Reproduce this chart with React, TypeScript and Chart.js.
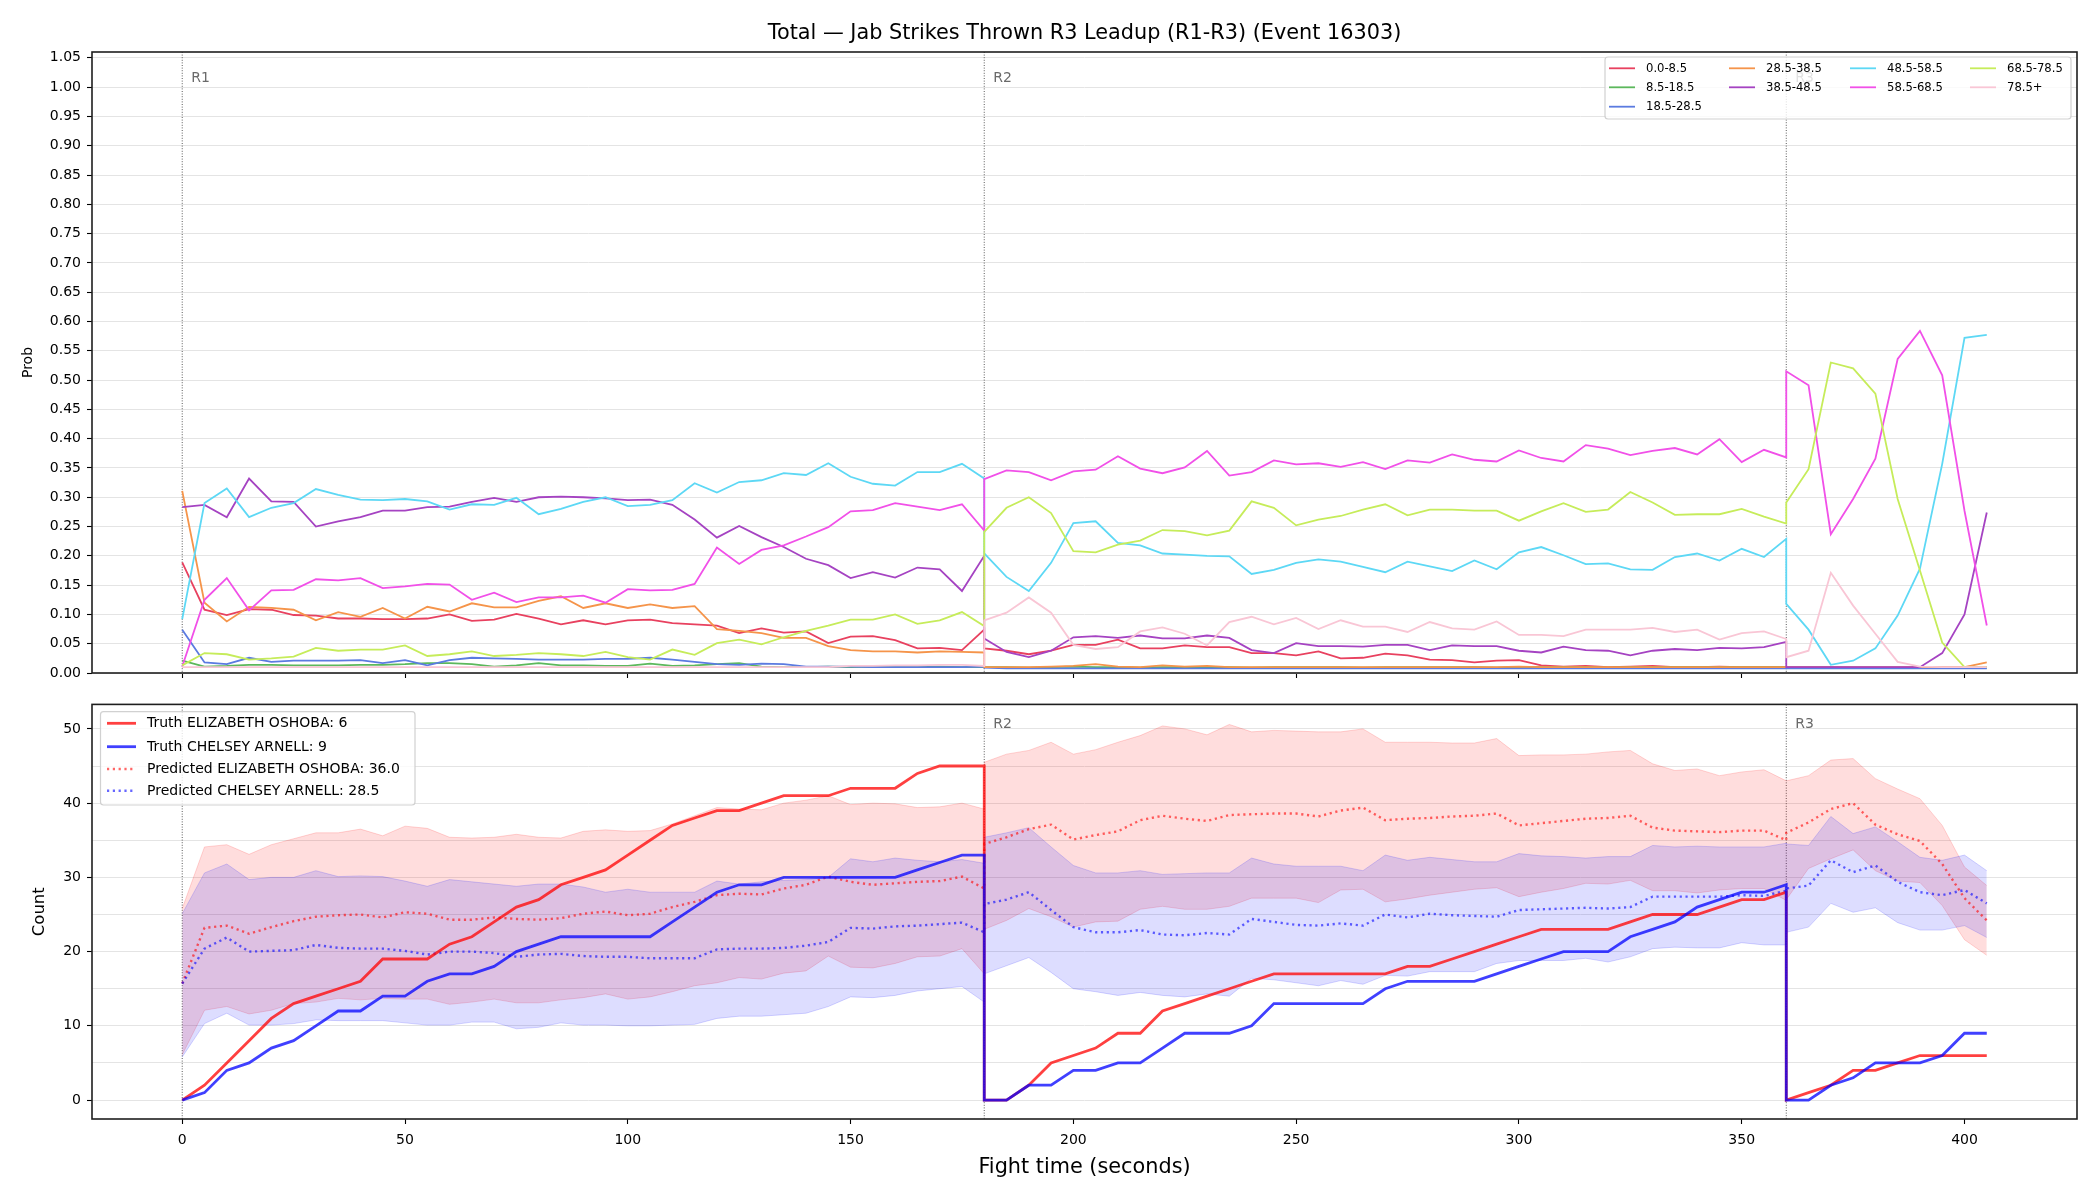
import React, { useEffect, useRef } from 'react';
import { Chart, registerables } from 'chart.js';

Chart.register(...registerables);

const FONT = '"DejaVu Sans", "Liberation Sans", sans-serif';

// Sample times (seconds). Each round restarts its counters, so the round
// boundaries (180 s and 360 s) appear twice: end of one round, start of the next.
const TIMES = [
  0, 5, 10, 15, 20, 25, 30, 35, 40, 45, 50, 55, 60, 65, 70, 75, 80, 85, 90, 95,
  100, 105, 110, 115, 120, 125, 130, 135, 140, 145, 150, 155, 160, 165, 170, 175, 180,
  180, 185, 190, 195, 200, 205, 210, 215, 220, 225, 230, 235, 240, 245, 250, 255, 260, 265, 270, 275,
  280, 285, 290, 295, 300, 305, 310, 315, 320, 325, 330, 335, 340, 345, 350, 355, 360,
  360, 365, 370, 375, 380, 385, 390, 395, 400, 405,
];

const X_TICKS = [0, 50, 100, 150, 200, 250, 300, 350, 400];
const PROB_TICKS = [0, 0.05, 0.1, 0.15, 0.2, 0.25, 0.3, 0.35, 0.4, 0.45, 0.5, 0.55, 0.6, 0.65, 0.7, 0.75, 0.8, 0.85, 0.9, 0.95, 1.0, 1.05];
const COUNT_TICKS = [0, 5, 10, 15, 20, 25, 30, 35, 40, 45, 50];

const ROUNDS = [
  { t: 0, label: 'R1' },
  { t: 180, label: 'R2' },
  { t: 360, label: 'R3' },
];

const BIN_LABELS = ['0.0-8.5', '8.5-18.5', '18.5-28.5', '28.5-38.5', '38.5-48.5', '48.5-58.5', '58.5-68.5', '68.5-78.5', '78.5+'];
const BIN_COLORS = ['#e8415f', '#5cb85c', '#5b7be0', '#f5944a', '#a543c2', '#5dd8f5', '#f150e8', '#c6ec5a', '#f9c6d5'];

// Probability of the final total landing in each bin
const P_0_8 = [
  0.189, 0.108, 0.099, 0.109, 0.108, 0.099, 0.098, 0.093, 0.093, 0.092, 0.092, 0.093, 0.100, 0.089, 0.091, 0.101, 0.093, 0.083, 0.090, 0.083,
  0.090, 0.091, 0.085, 0.083, 0.081, 0.068, 0.076, 0.069, 0.071, 0.051, 0.062, 0.063, 0.056, 0.042, 0.043, 0.039, 0.074,
  0.042, 0.038, 0.032, 0.038, 0.048, 0.048, 0.057, 0.042, 0.042, 0.047, 0.044, 0.044, 0.034, 0.034, 0.030, 0.037, 0.025, 0.026, 0.033, 0.030,
  0.023, 0.022, 0.018, 0.021, 0.022, 0.013, 0.011, 0.012, 0.010, 0.011, 0.012, 0.010, 0.010, 0.011, 0.010, 0.010, 0.010,
  0.010, 0.010, 0.010, 0.009, 0.009, 0.009, 0.009, 0.009, 0.009, 0.010,
];
const P_8_18 = [
  0.021, 0.011, 0.012, 0.014, 0.014, 0.013, 0.013, 0.013, 0.014, 0.014, 0.015, 0.017, 0.017, 0.015, 0.011, 0.013, 0.017, 0.013, 0.013, 0.012,
  0.012, 0.016, 0.012, 0.013, 0.015, 0.017, 0.011, 0.010, 0.010, 0.011, 0.010, 0.011, 0.010, 0.010, 0.011, 0.010, 0.010,
  0.010, 0.010, 0.009, 0.010, 0.011, 0.010, 0.010, 0.009, 0.010, 0.010, 0.010, 0.010, 0.009, 0.010, 0.010, 0.010, 0.010, 0.009, 0.010, 0.010,
  0.010, 0.010, 0.010, 0.009, 0.010, 0.010, 0.010, 0.010, 0.009, 0.010, 0.010, 0.010, 0.010, 0.010, 0.010, 0.010, 0.010,
  0.009, 0.009, 0.009, 0.009, 0.009, 0.009, 0.009, 0.009, 0.009, 0.009,
];
const P_18_28 = [
  0.074, 0.018, 0.015, 0.026, 0.019, 0.021, 0.021, 0.021, 0.022, 0.017, 0.022, 0.013, 0.022, 0.026, 0.025, 0.024, 0.023, 0.023, 0.023, 0.024,
  0.024, 0.026, 0.023, 0.019, 0.015, 0.014, 0.016, 0.015, 0.011, 0.011, 0.011, 0.010, 0.010, 0.010, 0.010, 0.010, 0.011,
  0.009, 0.008, 0.008, 0.008, 0.008, 0.008, 0.008, 0.008, 0.008, 0.008, 0.008, 0.008, 0.008, 0.008, 0.008, 0.008, 0.008, 0.008, 0.008, 0.008,
  0.008, 0.008, 0.008, 0.008, 0.008, 0.008, 0.008, 0.008, 0.008, 0.008, 0.008, 0.008, 0.008, 0.008, 0.008, 0.008, 0.008,
  0.008, 0.008, 0.008, 0.008, 0.008, 0.008, 0.008, 0.008, 0.008, 0.008,
];
const P_28_38 = [
  0.311, 0.120, 0.088, 0.113, 0.111, 0.108, 0.090, 0.104, 0.096, 0.111, 0.093, 0.113, 0.105, 0.119, 0.112, 0.112, 0.123, 0.131, 0.111, 0.119,
  0.111, 0.117, 0.111, 0.114, 0.075, 0.072, 0.068, 0.060, 0.060, 0.046, 0.039, 0.037, 0.037, 0.035, 0.037, 0.036, 0.035,
  0.010, 0.010, 0.010, 0.011, 0.012, 0.015, 0.011, 0.010, 0.013, 0.011, 0.012, 0.010, 0.010, 0.010, 0.010, 0.010, 0.010, 0.010, 0.010, 0.010,
  0.010, 0.010, 0.010, 0.010, 0.011, 0.010, 0.010, 0.010, 0.010, 0.010, 0.010, 0.010, 0.010, 0.010, 0.010, 0.010, 0.010,
  0.010, 0.010, 0.010, 0.010, 0.010, 0.010, 0.010, 0.010, 0.010, 0.018,
];
const P_38_48 = [
  0.283, 0.287, 0.266, 0.332, 0.293, 0.292, 0.250, 0.259, 0.266, 0.277, 0.277, 0.283, 0.284, 0.292, 0.299, 0.292, 0.300, 0.301, 0.300, 0.298,
  0.295, 0.296, 0.287, 0.262, 0.231, 0.251, 0.232, 0.215, 0.195, 0.184, 0.162, 0.172, 0.163, 0.180, 0.177, 0.140, 0.200,
  0.059, 0.036, 0.027, 0.038, 0.061, 0.063, 0.060, 0.064, 0.059, 0.059, 0.064, 0.060, 0.039, 0.034, 0.051, 0.046, 0.046, 0.045, 0.048, 0.048,
  0.039, 0.047, 0.046, 0.046, 0.038, 0.035, 0.045, 0.039, 0.038, 0.030, 0.038, 0.041, 0.039, 0.043, 0.042, 0.044, 0.053,
  0.010, 0.010, 0.010, 0.010, 0.010, 0.010, 0.010, 0.034, 0.100, 0.274,
];
const P_48_58 = [
  0.092, 0.290, 0.315, 0.266, 0.282, 0.290, 0.314, 0.304, 0.296, 0.295, 0.297, 0.293, 0.279, 0.288, 0.287, 0.299, 0.271, 0.280, 0.292, 0.300,
  0.285, 0.287, 0.295, 0.324, 0.308, 0.326, 0.329, 0.341, 0.338, 0.358, 0.335, 0.323, 0.320, 0.343, 0.343, 0.357, 0.332,
  0.204, 0.164, 0.140, 0.188, 0.256, 0.259, 0.222, 0.218, 0.204, 0.202, 0.200, 0.199, 0.169, 0.176, 0.188, 0.194, 0.190, 0.181, 0.172, 0.190,
  0.182, 0.174, 0.192, 0.177, 0.206, 0.215, 0.201, 0.186, 0.187, 0.177, 0.176, 0.198, 0.204, 0.192, 0.212, 0.198, 0.229,
  0.118, 0.074, 0.014, 0.021, 0.042, 0.098, 0.178, 0.357, 0.572, 0.577,
];
const P_58_68 = [
  0.011, 0.125, 0.162, 0.107, 0.141, 0.142, 0.160, 0.158, 0.162, 0.145, 0.148, 0.152, 0.151, 0.125, 0.137, 0.121, 0.129, 0.129, 0.132, 0.120,
  0.143, 0.141, 0.142, 0.152, 0.214, 0.186, 0.210, 0.218, 0.233, 0.249, 0.276, 0.278, 0.290, 0.284, 0.278, 0.288, 0.243,
  0.331, 0.346, 0.343, 0.329, 0.344, 0.347, 0.370, 0.349, 0.341, 0.351, 0.379, 0.337, 0.343, 0.363, 0.356, 0.358, 0.352, 0.360, 0.348, 0.363,
  0.359, 0.373, 0.364, 0.361, 0.380, 0.367, 0.361, 0.389, 0.383, 0.372, 0.379, 0.384, 0.373, 0.399, 0.360, 0.381, 0.368,
  0.515, 0.491, 0.237, 0.297, 0.366, 0.536, 0.584, 0.508, 0.277, 0.081,
];
const P_68_78 = [
  0.013, 0.034, 0.032, 0.023, 0.025, 0.028, 0.043, 0.038, 0.040, 0.040, 0.047, 0.029, 0.032, 0.037, 0.029, 0.031, 0.034, 0.032, 0.029, 0.036,
  0.027, 0.023, 0.040, 0.031, 0.051, 0.057, 0.049, 0.061, 0.072, 0.081, 0.091, 0.091, 0.100, 0.084, 0.090, 0.104, 0.080,
  0.241, 0.282, 0.300, 0.273, 0.208, 0.206, 0.219, 0.226, 0.244, 0.242, 0.235, 0.243, 0.293, 0.282, 0.252, 0.262, 0.268, 0.279, 0.288, 0.269,
  0.279, 0.279, 0.277, 0.277, 0.260, 0.276, 0.290, 0.275, 0.279, 0.309, 0.291, 0.270, 0.271, 0.271, 0.280, 0.267, 0.255,
  0.291, 0.348, 0.530, 0.520, 0.477, 0.297, 0.175, 0.052, 0.010, 0.010,
];
const P_78_UP = [
  0.010, 0.010, 0.010, 0.010, 0.010, 0.010, 0.010, 0.010, 0.010, 0.010, 0.010, 0.010, 0.010, 0.010, 0.010, 0.010, 0.010, 0.010, 0.010, 0.010,
  0.010, 0.010, 0.010, 0.010, 0.010, 0.010, 0.010, 0.010, 0.010, 0.010, 0.012, 0.012, 0.013, 0.013, 0.014, 0.014, 0.012,
  0.090, 0.103, 0.129, 0.103, 0.048, 0.041, 0.044, 0.071, 0.078, 0.067, 0.047, 0.087, 0.096, 0.083, 0.094, 0.075, 0.090, 0.079, 0.079, 0.070,
  0.087, 0.076, 0.074, 0.088, 0.065, 0.065, 0.063, 0.074, 0.074, 0.074, 0.077, 0.070, 0.074, 0.057, 0.068, 0.071, 0.058,
  0.027, 0.038, 0.171, 0.115, 0.067, 0.019, 0.011, 0.010, 0.010, 0.010,
];
const PROB_SERIES = [P_0_8, P_8_18, P_18_28, P_28_38, P_38_48, P_48_58, P_58_68, P_68_78, P_78_UP];

// Per-round jab counts: actual and predicted, with prediction bands
const FIGHTER_A = 'ELIZABETH OSHOBA';
const FIGHTER_B = 'CHELSEY ARNELL';

const TRUTH_A = [
  0, 2, 5, 8, 11, 13, 14, 15, 16, 19, 19, 19, 21, 22, 24, 26, 27, 29, 30, 31,
  33, 35, 37, 38, 39, 39, 40, 41, 41, 41, 42, 42, 42, 44, 45, 45, 45,
  0, 0, 2, 5, 6, 7, 9, 9, 12, 13, 14, 15, 16, 17, 17, 17, 17, 17, 17, 18,
  18, 19, 20, 21, 22, 23, 23, 23, 23, 24, 25, 25, 25, 26, 27, 27, 28,
  0, 1, 2, 4, 4, 5, 6, 6, 6, 6,
];
const TRUTH_B = [
  0, 1, 4, 5, 7, 8, 10, 12, 12, 14, 14, 16, 17, 17, 18, 20, 21, 22, 22, 22,
  22, 22, 24, 26, 28, 29, 29, 30, 30, 30, 30, 30, 30, 31, 32, 33, 33,
  0, 0, 2, 2, 4, 4, 5, 5, 7, 9, 9, 9, 10, 13, 13, 13, 13, 13, 15, 16,
  16, 16, 16, 17, 18, 19, 20, 20, 20, 22, 23, 24, 26, 27, 28, 28, 29,
  0, 0, 2, 3, 5, 5, 5, 6, 9, 9,
];
const PRED_A = [
  15.7, 23.2, 23.5, 22.4, 23.3, 24.1, 24.7, 24.9, 25.0, 24.6, 25.3, 25.1, 24.3, 24.3, 24.6, 24.4, 24.3, 24.5, 25.1, 25.4,
  24.9, 25.1, 26.0, 26.7, 27.6, 27.8, 27.7, 28.5, 29.0, 30.1, 29.4, 29.0, 29.2, 29.4, 29.5, 30.1, 28.5,
  34.5, 35.4, 36.5, 37.1, 35.1, 35.7, 36.2, 37.7, 38.3, 37.9, 37.6, 38.4, 38.5, 38.6, 38.6, 38.2, 39.0, 39.4, 37.7, 37.9,
  38.0, 38.2, 38.3, 38.6, 37.0, 37.3, 37.6, 37.9, 38.0, 38.3, 36.7, 36.3, 36.2, 36.1, 36.3, 36.3, 35.0,
  36.0, 37.4, 39.2, 40.0, 37.1, 35.8, 34.9, 31.8, 27.2, 24.2,
];
const PRED_B = [
  15.7, 20.4, 21.9, 20.0, 20.1, 20.2, 20.9, 20.5, 20.4, 20.4, 20.1, 19.6, 20.0, 20.0, 19.8, 19.3, 19.6, 19.7, 19.4, 19.3,
  19.3, 19.1, 19.1, 19.1, 20.3, 20.4, 20.4, 20.5, 20.8, 21.3, 23.2, 23.1, 23.4, 23.5, 23.7, 23.9, 22.6,
  26.4, 27.0, 28.0, 25.6, 23.3, 22.6, 22.6, 22.9, 22.3, 22.2, 22.5, 22.3, 24.4, 24.0, 23.6, 23.5, 23.8, 23.5, 25.0, 24.6,
  25.1, 24.9, 24.8, 24.7, 25.6, 25.7, 25.8, 25.9, 25.8, 26.0, 27.4, 27.4, 27.4, 27.4, 27.6, 27.5, 28.2,
  28.5, 28.9, 32.3, 30.7, 31.6, 29.4, 28.0, 27.6, 28.3, 26.5,
];
const BAND_A_HIGH = [
  25.8, 34.1, 34.4, 33.1, 34.4, 35.2, 36.0, 36.0, 36.5, 35.6, 36.9, 36.6, 35.4, 35.3, 35.4, 35.8, 35.4, 35.3, 36.2, 36.4,
  36.2, 36.3, 37.2, 38.3, 39.4, 39.2, 39.1, 40.0, 40.4, 41.0, 39.8, 40.0, 39.9, 39.4, 39.5, 40.0, 39.2,
  45.5, 46.6, 47.1, 48.2, 46.6, 47.2, 48.2, 49.1, 50.4, 50.0, 49.2, 50.6, 49.6, 49.8, 49.7, 49.6, 49.6, 50.0, 48.2, 48.2,
  48.2, 48.1, 48.1, 48.7, 46.4, 46.5, 46.5, 46.6, 46.9, 47.1, 45.3, 44.4, 44.6, 43.7, 44.2, 44.5, 43.0,
  43.0, 43.7, 45.8, 46.0, 43.3, 41.9, 40.6, 37.0, 31.4, 28.9,
];
const BAND_A_LOW = [
  6.1, 12.1, 12.6, 11.6, 12.1, 13.0, 13.2, 13.7, 13.5, 13.7, 13.6, 13.6, 12.9, 13.2, 13.6, 13.1, 13.1, 13.5, 13.8, 14.3,
  13.6, 13.9, 14.6, 15.4, 15.8, 16.5, 16.3, 17.1, 17.4, 19.4, 17.9, 17.8, 18.4, 19.3, 19.4, 20.4, 17.0,
  23.0, 24.2, 25.8, 24.7, 23.3, 24.0, 24.1, 25.7, 26.1, 25.7, 25.7, 26.1, 27.2, 27.2, 27.2, 26.6, 28.3, 28.4, 26.7, 27.1,
  27.6, 28.0, 28.4, 28.6, 27.4, 28.0, 28.5, 29.2, 29.1, 29.6, 28.2, 28.2, 27.9, 28.3, 28.5, 28.5, 26.9,
  27.0, 31.2, 32.5, 33.7, 30.9, 29.5, 29.3, 26.2, 21.6, 19.5,
];
const BAND_B_HIGH = [
  25.1, 30.6, 31.8, 29.7, 30.0, 30.0, 30.9, 30.1, 30.2, 30.1, 29.5, 28.8, 29.7, 29.4, 29.1, 28.8, 29.1, 29.1, 28.7, 28.0,
  28.4, 28.0, 28.0, 28.0, 29.5, 29.1, 29.4, 29.6, 29.7, 30.0, 32.5, 32.1, 32.6, 32.3, 32.1, 32.4, 31.9,
  35.4, 36.0, 36.7, 34.1, 31.6, 30.6, 30.6, 30.9, 30.4, 30.5, 30.6, 30.6, 32.6, 31.8, 31.5, 31.5, 31.5, 30.9, 33.0, 32.3,
  32.7, 32.4, 32.1, 32.1, 33.2, 32.9, 32.8, 32.6, 32.8, 32.8, 34.3, 34.1, 34.2, 34.1, 34.1, 34.1, 34.6,
  34.5, 34.3, 38.2, 35.9, 36.8, 34.8, 32.7, 32.3, 33.0, 30.9,
];
const BAND_B_LOW = [
  5.8, 10.3, 11.7, 10.1, 10.1, 10.3, 10.8, 10.7, 10.7, 10.7, 10.4, 10.1, 10.1, 10.5, 10.5, 9.6, 9.8, 10.4, 10.1, 10.1,
  10.0, 10.0, 10.1, 10.2, 11.0, 11.3, 11.3, 11.5, 11.7, 12.6, 13.9, 13.8, 14.1, 14.7, 15.0, 15.3, 13.2,
  17.0, 18.1, 19.2, 17.2, 15.0, 14.6, 14.1, 14.5, 14.1, 13.9, 14.3, 14.0, 16.4, 16.2, 15.8, 15.4, 16.1, 15.6, 16.8, 16.7,
  17.3, 17.3, 17.3, 18.4, 18.8, 18.8, 18.8, 19.1, 18.6, 19.3, 20.4, 20.6, 20.5, 20.5, 21.2, 20.9, 20.9,
  22.6, 23.3, 26.5, 25.3, 25.9, 23.9, 22.9, 22.9, 23.5, 21.9,
];

const TITLE = 'Total — Jab Strikes Thrown R3 Leadup (R1-R3) (Event 16303)';

const RED_LINE = 'rgba(255,0,0,0.75)';
const BLUE_LINE = 'rgba(0,0,255,0.75)';
const RED_DOT = 'rgba(255,0,0,0.6)';
const BLUE_DOT = 'rgba(0,0,255,0.6)';
const RED_FILL = 'rgba(255,0,0,0.135)';
const BLUE_FILL = 'rgba(0,0,255,0.135)';
const RED_EDGE = 'rgba(255,0,0,0.16)';
const BLUE_EDGE = 'rgba(0,0,255,0.16)';
const DOT_DASH = [2.2, 3.6];

const GRID = '#e4e4e4';
const AXIS_W = 92;
const PAD_RIGHT = 23;

const pts = (vals: number[]) => vals.map((y, i) => ({ x: TIMES[i], y }));

function font(size: number) {
  return `${size}px ${FONT}`;
}

type LegendItem = { label: string; color: string; width: number; dash?: number[]; x: number; y: number };

function drawLegendBox(
  ctx: CanvasRenderingContext2D,
  box: { x: number; y: number; w: number; h: number },
  items: LegendItem[],
  handleLen: number,
  textGap: number,
  fontSize: number,
) {
  ctx.save();
  const r = 3;
  ctx.beginPath();
  ctx.moveTo(box.x + r, box.y);
  ctx.arcTo(box.x + box.w, box.y, box.x + box.w, box.y + box.h, r);
  ctx.arcTo(box.x + box.w, box.y + box.h, box.x, box.y + box.h, r);
  ctx.arcTo(box.x, box.y + box.h, box.x, box.y, r);
  ctx.arcTo(box.x, box.y, box.x + box.w, box.y, r);
  ctx.closePath();
  ctx.fillStyle = 'rgba(255,255,255,0.8)';
  ctx.fill();
  ctx.strokeStyle = 'rgba(204,204,204,0.9)';
  ctx.lineWidth = 1.2;
  ctx.stroke();
  for (const it of items) {
    ctx.beginPath();
    ctx.setLineDash(it.dash || []);
    ctx.strokeStyle = it.color;
    ctx.lineWidth = it.width;
    ctx.moveTo(it.x, it.y);
    ctx.lineTo(it.x + handleLen, it.y);
    ctx.stroke();
    ctx.setLineDash([]);
    ctx.fillStyle = '#000';
    ctx.font = font(fontSize);
    ctx.textAlign = 'left';
    ctx.textBaseline = 'middle';
    ctx.fillText(it.label, it.x + handleLen + textGap, it.y + 0.5);
  }
  ctx.restore();
}

// Dotted round boundaries with their labels
function roundsPlugin(labelDy: number, hidden: string[]) {
  return {
    id: 'rounds',
    beforeDatasetsDraw(chart: any) {
      const { ctx, chartArea, scales } = chart;
      ctx.save();
      for (const r of ROUNDS) {
        const px = scales.x.getPixelForValue(r.t);
        ctx.beginPath();
        ctx.setLineDash([1, 1.6]);
        ctx.strokeStyle = 'rgba(50,50,50,0.8)';
        ctx.lineWidth = 1;
        ctx.moveTo(px, chartArea.top);
        ctx.lineTo(px, chartArea.bottom);
        ctx.stroke();
        ctx.setLineDash([]);
        if (!hidden.includes(r.label)) {
          ctx.fillStyle = '#6a6a6a';
          ctx.font = font(14);
          ctx.textAlign = 'left';
          ctx.textBaseline = 'middle';
          ctx.fillText(r.label, px + 9, chartArea.top + labelDy);
        }
      }
      ctx.restore();
    },
  };
}

const framePlugin = {
  id: 'frame',
  afterDatasetsDraw(chart: any) {
    const { ctx, chartArea } = chart;
    ctx.save();
    ctx.strokeStyle = '#1e1e1e';
    ctx.lineWidth = 1.6;
    ctx.strokeRect(chartArea.left, chartArea.top, chartArea.right - chartArea.left, chartArea.bottom - chartArea.top);
    ctx.restore();
  },
};

const topDecor = {
  id: 'topDecor',
  afterDraw(chart: any) {
    const { ctx, chartArea } = chart;
    ctx.save();
    ctx.fillStyle = '#000';
    ctx.font = font(20.8);
    ctx.textAlign = 'center';
    ctx.textBaseline = 'middle';
    ctx.fillText(TITLE, (chartArea.left + chartArea.right) / 2, 33.5);
    ctx.translate(28.5, (chartArea.top + chartArea.bottom) / 2);
    ctx.rotate(-Math.PI / 2);
    ctx.font = font(14);
    ctx.fillText('Prob', 0, 0);
    ctx.restore();

    const colX = [1609, 1729, 1850, 1970];
    const rowY = [68.3, 87.3, 106.7];
    const slots = [[0, 0], [0, 1], [0, 2], [1, 0], [1, 1], [2, 0], [2, 1], [3, 0], [3, 1]];
    const items: LegendItem[] = BIN_LABELS.map((label, i) => ({
      label,
      color: BIN_COLORS[i],
      width: 1.8,
      x: colX[slots[i][0]],
      y: rowY[slots[i][1]],
    }));
    drawLegendBox(ctx, { x: 1605, y: 57, w: 466, h: 62 }, items, 26, 11, 11.6);
  },
};

const bottomDecor = {
  id: 'bottomDecor',
  afterDraw(chart: any) {
    const { ctx, chartArea } = chart;
    ctx.save();
    ctx.fillStyle = '#000';
    ctx.textAlign = 'center';
    ctx.textBaseline = 'middle';
    ctx.font = font(20.8);
    ctx.fillText('Fight time (seconds)', (chartArea.left + chartArea.right) / 2, 477.5);
    ctx.translate(40, (chartArea.top + chartArea.bottom) / 2);
    ctx.rotate(-Math.PI / 2);
    ctx.font = font(16.5);
    ctx.fillText('Count', 0, 0);
    ctx.restore();

    const lastA = TRUTH_A[TRUTH_A.length - 1];
    const lastB = TRUTH_B[TRUTH_B.length - 1];
    const r3Start = TIMES.indexOf(360, TIMES.indexOf(360) + 1);
    const items: LegendItem[] = [
      { label: `Truth ${FIGHTER_A}: ${lastA}`, color: RED_LINE, width: 2.8, x: 107, y: 33.3 },
      { label: `Truth ${FIGHTER_B}: ${lastB}`, color: BLUE_LINE, width: 2.8, x: 107, y: 56.7 },
      { label: `Predicted ${FIGHTER_A}: ${PRED_A[r3Start].toFixed(1)}`, color: RED_DOT, width: 2.4, dash: DOT_DASH, x: 107, y: 79 },
      { label: `Predicted ${FIGHTER_B}: ${PRED_B[r3Start].toFixed(1)}`, color: BLUE_DOT, width: 2.4, dash: DOT_DASH, x: 107, y: 100.7 },
    ];
    drawLegendBox(ctx, { x: 100.5, y: 21.7, w: 314.5, h: 93.3 }, items, 29, 11, 14);
  },
};

const xScale = (labels: boolean, height: number) => ({
  type: 'linear' as const,
  min: -20.25,
  max: 425.25,
  afterBuildTicks: (s: any) => {
    s.ticks = X_TICKS.map((v) => ({ value: v }));
  },
  afterFit: (s: any) => {
    s.height = height;
  },
  border: { display: false },
  grid: { drawOnChartArea: false, drawTicks: true, tickLength: 5, tickColor: '#000', tickWidth: 1.1 },
  ticks: {
    display: labels,
    color: '#000',
    font: { family: FONT, size: 14 },
    padding: 8,
    maxRotation: 0,
    autoSkip: false,
    callback: (v: any) => String(v),
  },
});

export default function App() {
  const topRef = useRef<HTMLCanvasElement | null>(null);
  const botRef = useRef<HTMLCanvasElement | null>(null);

  useEffect(() => {
    if (!topRef.current || !botRef.current) return;

    const topChart = new Chart(topRef.current, {
      type: 'line',
      data: {
        datasets: PROB_SERIES.map((vals, i) => ({
          label: BIN_LABELS[i],
          data: pts(vals),
          borderColor: BIN_COLORS[i],
          borderWidth: 1.8,
          pointRadius: 0,
          fill: false,
          tension: 0,
          order: PROB_SERIES.length - i,
        })),
      },
      options: {
        animation: false,
        responsive: false,
        devicePixelRatio: 1,
        events: [],
        layout: { padding: { top: 52, right: PAD_RIGHT, left: 0, bottom: 0 } },
        plugins: { legend: { display: false }, tooltip: { enabled: false } },
        scales: {
          x: xScale(false, 17),
          y: {
            type: 'linear',
            min: 0,
            max: 1.06,
            afterBuildTicks: (s: any) => {
              s.ticks = PROB_TICKS.map((v) => ({ value: v }));
            },
            afterFit: (s: any) => {
              s.width = AXIS_W;
            },
            border: { display: false },
            grid: { color: GRID, lineWidth: 1, tickLength: 5, tickColor: '#000', tickWidth: 1.1 },
            ticks: {
              color: '#000',
              font: { family: FONT, size: 14 },
              padding: 6,
              autoSkip: false,
              callback: (v: any) => Number(v).toFixed(2),
            },
          },
        },
      } as any,
      plugins: [roundsPlugin(26, []), framePlugin, topDecor],
    });

    const botChart = new Chart(botRef.current, {
      type: 'line',
      data: {
        datasets: [
          { label: 'a-low', data: pts(BAND_A_LOW), borderColor: RED_EDGE, borderWidth: 1, pointRadius: 0, fill: false, order: 10 },
          { label: 'a-high', data: pts(BAND_A_HIGH), borderColor: RED_EDGE, borderWidth: 1, pointRadius: 0, fill: '-1', backgroundColor: RED_FILL, order: 9 },
          { label: 'b-low', data: pts(BAND_B_LOW), borderColor: BLUE_EDGE, borderWidth: 1, pointRadius: 0, fill: false, order: 8 },
          { label: 'b-high', data: pts(BAND_B_HIGH), borderColor: BLUE_EDGE, borderWidth: 1, pointRadius: 0, fill: '-1', backgroundColor: BLUE_FILL, order: 7 },
          { label: 'pred-a', data: pts(PRED_A), borderColor: RED_DOT, borderWidth: 2.4, borderDash: DOT_DASH, pointRadius: 0, fill: false, order: 4 },
          { label: 'pred-b', data: pts(PRED_B), borderColor: BLUE_DOT, borderWidth: 2.4, borderDash: DOT_DASH, pointRadius: 0, fill: false, order: 3 },
          { label: 'truth-a', data: pts(TRUTH_A), borderColor: RED_LINE, borderWidth: 2.8, pointRadius: 0, fill: false, order: 2 },
          { label: 'truth-b', data: pts(TRUTH_B), borderColor: BLUE_LINE, borderWidth: 2.8, pointRadius: 0, fill: false, order: 1 },
        ],
      },
      options: {
        animation: false,
        responsive: false,
        devicePixelRatio: 1,
        events: [],
        layout: { padding: { top: 14, right: PAD_RIGHT, left: 0, bottom: 0 } },
        plugins: { legend: { display: false }, tooltip: { enabled: false } },
        scales: {
          x: xScale(true, 81),
          y: {
            type: 'linear',
            min: -2.55,
            max: 53.3,
            afterBuildTicks: (s: any) => {
              s.ticks = COUNT_TICKS.map((v) => ({ value: v }));
            },
            afterFit: (s: any) => {
              s.width = AXIS_W;
            },
            border: { display: false },
            grid: {
              color: GRID,
              lineWidth: 1,
              tickLength: 5,
              tickWidth: 1.1,
              tickColor: (c: any) => (c.tick && c.tick.value % 10 === 0 ? '#000' : 'rgba(0,0,0,0)'),
            },
            ticks: {
              color: '#000',
              font: { family: FONT, size: 14 },
              padding: 6,
              autoSkip: false,
              callback: (v: any) => (Number(v) % 10 === 0 ? String(v) : ''),
            },
          },
        },
      } as any,
      plugins: [roundsPlugin(20, ['R1']), framePlugin, bottomDecor],
    });

    return () => {
      topChart.destroy();
      botChart.destroy();
    };
  }, []);

  return (
    <div style={{ position: 'absolute', left: 0, top: 0, width: 2100, height: 1200, background: '#fff', overflow: 'hidden' }}>
      <canvas ref={topRef} width={2100} height={690} style={{ position: 'absolute', left: 0, top: 0, width: 2100, height: 690 }} />
      <canvas ref={botRef} width={2100} height={510} style={{ position: 'absolute', left: 0, top: 690, width: 2100, height: 510 }} />
    </div>
  );
}
